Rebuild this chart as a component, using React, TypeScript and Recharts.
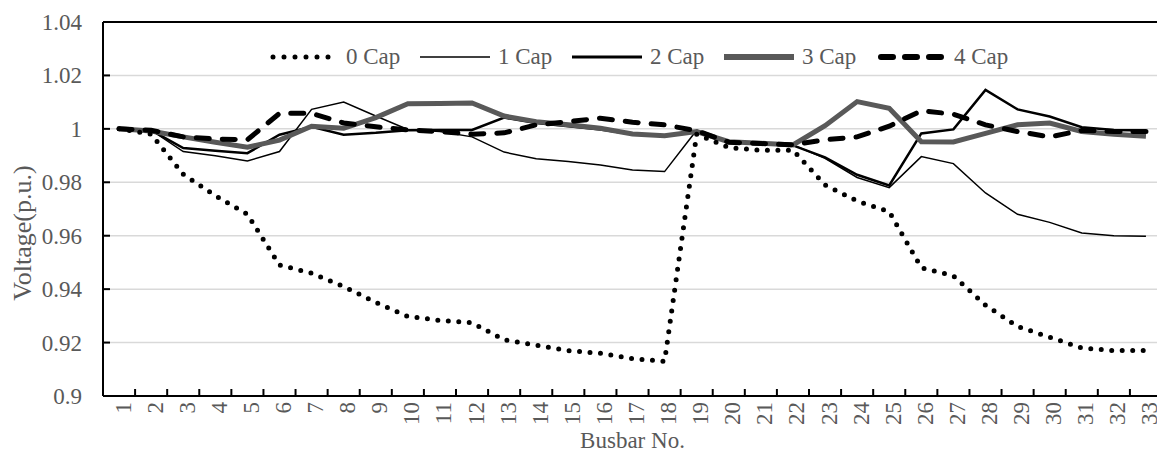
import React from 'react';
import { LineChart, Line, XAxis, YAxis, CartesianGrid, ReferenceLine } from 'recharts';

const busbars = [1, 2, 3, 4, 5, 6, 7, 8, 9, 10, 11, 12, 13, 14, 15, 16, 17, 18, 19, 20, 21, 22, 23, 24, 25, 26, 27, 28, 29, 30, 31, 32, 33];

const cap0 = [1.0, 0.998, 0.983, 0.975, 0.968, 0.949, 0.946, 0.941, 0.935, 0.9298, 0.9283, 0.9274, 0.921, 0.919, 0.917, 0.916, 0.914, 0.913, 0.998, 0.993, 0.992, 0.992, 0.979, 0.973, 0.969, 0.948, 0.945, 0.934, 0.926, 0.922, 0.918, 0.917, 0.917];
const cap1 = [1.0, 0.9995, 0.9915, 0.9899, 0.988, 0.9915, 1.0073, 1.010, 1.0048, 0.9998, 0.999, 0.997, 0.9913, 0.9888, 0.9878, 0.9865, 0.9846, 0.984, 0.9995, 0.9955, 0.9948, 0.994, 0.989, 0.9818, 0.978, 0.9896, 0.987, 0.976, 0.968, 0.965, 0.961, 0.960, 0.9598];
const cap2 = [1.0, 0.9995, 0.9928, 0.9918, 0.9909, 0.9978, 1.0008, 0.9978, 0.9985, 0.9995, 0.9996, 0.9996, 1.0042, 1.0022, 1.001, 0.9998, 0.998, 0.9972, 0.999, 0.995, 0.9945, 0.9938, 0.9893, 0.9828, 0.9788, 0.9983, 0.9998, 1.0146, 1.0073, 1.0046, 1.0006, 0.9996, 0.9994];
const cap3 = [1.0, 0.9992, 0.997, 0.995, 0.9931, 0.9958, 1.001, 1.0002, 1.0042, 1.0094, 1.0095, 1.0097, 1.0048, 1.0027, 1.0015, 1.0002, 0.9981, 0.9974, 0.999, 0.9952, 0.9946, 0.994, 1.0012, 1.0102, 1.0077, 0.9952, 0.9951, 0.9983, 1.0015, 1.0022, 0.999, 0.998, 0.9972];
const cap4 = [1.0, 0.9995, 0.997, 0.9962, 0.9959, 1.0058, 1.0058, 1.0022, 1.0008, 0.9996, 0.999, 0.998, 0.9985, 1.0015, 1.0027, 1.004, 1.0025, 1.0015, 0.9993, 0.995, 0.9945, 0.994, 0.9959, 0.997, 1.001, 1.0068, 1.0055, 1.0015, 0.999, 0.997, 0.9994, 0.999, 0.999];

const yTicks = [0.9, 0.92, 0.94, 0.96, 0.98, 1, 1.02, 1.04];

const data = busbars.map((b, i) => ({
  bus: b,
  c0: cap0[i],
  c1: cap1[i],
  c2: cap2[i],
  c3: cap3[i],
  c4: cap4[i],
}));

const W = 1157;
const H = 446;
const LEFT = 95;
const RIGHT = 3;
const STEP = (W - LEFT - RIGHT) / busbars.length;
const FONT = 'Liberation Serif';
const TEXT = '#595959';

const YTick = (props: any) => {
  const { x, y, payload } = props;
  const axisX = x + 21;
  return (
    <g>
      <line x1={axisX} x2={axisX + 7} y1={y} y2={y} stroke="#000" strokeWidth={2} />
      <text x={x} y={y} dy="0.35em" textAnchor="end" fontFamily={FONT} fontSize={23} fill={TEXT}>
        {Number(payload.value.toFixed(2)).toString()}
      </text>
    </g>
  );
};

const XTick = (props: any) => {
  const { x, y, payload } = props;
  const axisY = y - 6;
  return (
    <g>
      {payload.value < 33 && (
        <line x1={x + STEP / 2} x2={x + STEP / 2} y1={axisY} y2={axisY - 7} stroke="#000" strokeWidth={2} />
      )}
      <text x={x} y={y} dy="0.5em" textAnchor="end" transform={`rotate(-90, ${x}, ${y})`} fontFamily={FONT} fontSize={23} fill={TEXT}>
        {payload.value}
      </text>
    </g>
  );
};

const legendItems = [
  { name: '0 Cap', stroke: '#000', width: 5, dash: '0 11' },
  { name: '1 Cap', stroke: '#000', width: 1.5, dash: undefined },
  { name: '2 Cap', stroke: '#000', width: 3, dash: undefined },
  { name: '3 Cap', stroke: '#595959', width: 6, dash: undefined },
  { name: '4 Cap', stroke: '#000', width: 6, dash: '12 12' },
];

function LegendBox() {
  return (
    <div style={{ position: 'absolute', left: 260, top: 36, display: 'flex', fontFamily: FONT, fontSize: 23, color: TEXT, lineHeight: '26px' }}>
      {legendItems.map((it) => (
        <div key={it.name} style={{ width: 152, display: 'flex', alignItems: 'center' }}>
          <svg width={70} height={20} style={{ marginRight: 8 }}>
            <line
              x1={it.dash ? 5 : 0}
              x2={it.dash ? 66 : 70}
              y1={10}
              y2={10}
              stroke={it.stroke}
              strokeWidth={it.width}
              strokeDasharray={it.dash}
              strokeLinecap={it.dash ? 'round' : 'butt'}
            />
          </svg>
          <span>{it.name}</span>
        </div>
      ))}
    </div>
  );
}

export default function App() {
  return (
    <div style={{ position: 'relative', width: W, height: H }}>
      <LineChart width={W} height={H} data={data} margin={{ top: 14, right: RIGHT, bottom: 0, left: 0 }}>
        <CartesianGrid vertical={false} stroke="#d9d9d9" strokeWidth={1.5} />
        <XAxis
          dataKey="bus"
          type="number"
          domain={[0.5, 33.5]}
          ticks={busbars}
          interval={0}
          height={58}
          tickSize={0}
          tickMargin={6}
          tick={<XTick />}
          axisLine={{ stroke: '#000', strokeWidth: 2 }}
          label={{
            content: ({ viewBox }: any) => (
              <text x={viewBox.x + viewBox.width / 2} y={viewBox.y + 44} dy="0.35em" textAnchor="middle" fontFamily={FONT} fontSize={23} fill={TEXT}>
                Busbar No.
              </text>
            ),
          }}
        />
        <YAxis
          type="number"
          domain={[0.9, 1.04]}
          ticks={yTicks}
          width={LEFT}
          tickSize={0}
          tickMargin={21}
          tick={<YTick />}
          axisLine={{ stroke: '#000', strokeWidth: 2 }}
          allowDataOverflow
          label={{
            content: ({ viewBox }: any) => {
              const cx = viewBox.x + 14;
              const cy = viewBox.y + viewBox.height / 2 + 24;
              return (
                <text x={cx} y={cy} dy="0.35em" textAnchor="middle" transform={`rotate(-90, ${cx}, ${cy})`} fontFamily={FONT} fontSize={26} fill={TEXT}>
                  Voltage(p.u.)
                </text>
              );
            },
          }}
        />
        <ReferenceLine y={1.04} stroke="#000" strokeWidth={2} />
        <ReferenceLine x={33.5} stroke="#000" strokeWidth={2} />
        <Line dataKey="c1" stroke="#000" strokeWidth={1.5} dot={false} isAnimationActive={false} />
        <Line dataKey="c2" stroke="#000" strokeWidth={2.5} dot={false} isAnimationActive={false} />
        <Line dataKey="c3" stroke="#595959" strokeWidth={5} dot={false} isAnimationActive={false} />
        <Line dataKey="c4" stroke="#000" strokeWidth={5} strokeDasharray="13 13" strokeLinecap="round" dot={false} isAnimationActive={false} />
        <Line dataKey="c0" stroke="#000" strokeWidth={5} strokeDasharray="0 10.5" strokeLinecap="round" dot={false} isAnimationActive={false} />
      </LineChart>
      <LegendBox />
    </div>
  );
}
